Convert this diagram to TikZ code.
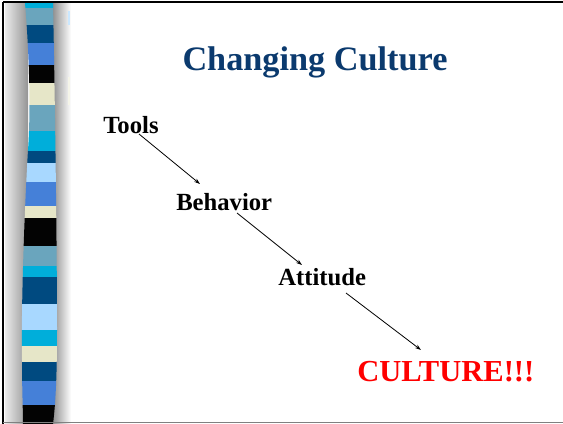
\documentclass[tikz,border=0pt]{standalone}
\usepackage{fontspec}
\setmainfont{Liberation Serif}
\usetikzlibrary{arrows.meta}

\definecolor{titlenavy}{HTML}{0B3A6E}
\definecolor{bandcyan}{HTML}{00AEDA}
\definecolor{bandsteel}{HTML}{6AA5BD}
\definecolor{bandnavy}{HTML}{004A80}
\definecolor{bandmid}{HTML}{4580D8}
\definecolor{bandink}{HTML}{030303}
\definecolor{bandcream}{HTML}{E6E6C8}
\definecolor{bandsky}{HTML}{A8D8FF}
\definecolor{hotred}{HTML}{FF0000}

\tikzset{
  stepword/.style={font=\bfseries\fontsize{18.5}{22}\selectfont, inner sep=0pt, anchor=base west},
  flow/.style={line width=0.6pt, -{Stealth[length=4.5pt,width=3pt]}},
}

\begin{document}
\begin{tikzpicture}[x=0.75pt,y=-0.75pt]
\useasboundingbox (0,0) rectangle (563,424);
\fill[white] (0,0) rectangle (563,424);

% rounded grey column behind the striped band
\shade[left color=black!8, right color=black!42] (5,3) rectangle (28,424);
\shade[left color=black!45, right color=white] (52,3) rectangle (71,424);

% striped band with slightly bowed edges
\begin{scope}
\clip (25,3) .. controls (29,50) and (31,110) .. (28,150)
      .. controls (25,200) and (21,300) .. (22,360)
      .. controls (22,390) and (23,410) .. (23,424)
      -- (53,424) .. controls (56,400) and (57,370) .. (57,330)
      .. controls (57,250) and (55,100) .. (53,3) -- cycle;
\foreach \ya/\yb/\col in {
   3/8/bandcyan, 8/25/bandsteel, 25/43/bandnavy, 43/65/bandmid,
   65/83/bandink, 83/105/bandcream, 105/131/bandsteel, 131/151/bandcyan,
   151/163/bandnavy, 163/182/bandsky, 182/206/bandmid, 206/218/bandcream,
   218/246/bandink, 246/266/bandsteel, 266/277/bandcyan, 277/304/bandnavy,
   304/330/bandsky, 330/346/bandcyan, 346/362/bandcream, 362/381/bandnavy,
   381/405/bandmid, 405/424/bandink}
  \fill[\col] (0,\ya) rectangle (80,\yb);
\end{scope}

% faint reflections beside the column
\fill[bandsky!60!white] (67.5,11) rectangle (69.5,25);
\fill[bandcream!40!white] (67.5,77) rectangle (69.5,105);

% slide frame
\draw[black, line width=1.5pt] (3,2.5) -- (563,2.5);
\draw[black, line width=1.5pt] (3.2,2) -- (3.2,424);
\draw[black!50, line width=1pt] (3,422.8) -- (563,422.8);

% title
\node[font=\bfseries\fontsize{25.7}{30}\selectfont, text=titlenavy, inner sep=0pt, anchor=base]
  (title) at (315,71) {Changing Culture};

% the chain of words
\node[stepword] (tools) at (103,133) {Tools};
\node[stepword] (behavior) at (176,210) {Behavior};
\node[stepword] (attitude) at (278,285) {Attitude};
\node[stepword, font=\bfseries\fontsize{22.9}{27}\selectfont, text=hotred] (culture) at (357,381) {CULTURE!!!};

% arrow ends
\coordinate (tools-out) at (139,134);
\coordinate (behavior-in) at (200,184);
\coordinate (behavior-out) at (237,213);
\coordinate (attitude-in) at (302,265);
\coordinate (attitude-out) at (346,293);
\coordinate (culture-in) at (421,350);

\draw[flow] (tools-out) -- (behavior-in);
\draw[flow] (behavior-out) -- (attitude-in);
\draw[flow] (attitude-out) -- (culture-in);
\end{tikzpicture}
\end{document}
